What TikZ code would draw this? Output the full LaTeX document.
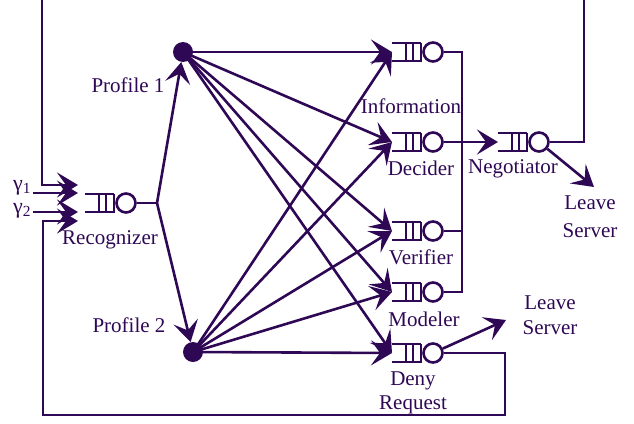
\documentclass[tikz,border=0pt]{standalone}
\usepackage{fontspec}
\setmainfont{Liberation Serif}
\usetikzlibrary{arrows.meta}
\definecolor{ink}{RGB}{46,8,84}
\newcommand\qsym[3]{%
  \coordinate (#1-in) at (#2,#3);
  \draw[ln] (#2+29,#3-9) -- (#2,#3-9) (#2,#3+9) -- (#2+29,#3+9) -- (#2+29,#3-9);
  \draw[ln] (#2+14,#3-9) -- (#2+14,#3+9) (#2+21,#3-9) -- (#2+21,#3+9);
  \node[qc] (#1) at (#2+41,#3) {};
}
\begin{document}
\begin{tikzpicture}[x=1pt,y=-1pt,
  ln/.style={draw=ink,line width=2.6pt},
  arr/.style={ln,-{Stealth[length=21pt,width=25pt,inset=9pt]}},
  qc/.style={circle,draw=ink,line width=2.6pt,minimum size=19pt,inner sep=0pt,fill=white},
  dotnode/.style={circle,fill=ink,minimum size=20pt,inner sep=0pt},
  lbl/.style={text=ink,font=\fontsize{21}{26}\selectfont,align=center,inner sep=0pt}]
\useasboundingbox (0,0) rectangle (634,423);
\clip (0,0) rectangle (634,423);

% queues
\qsym{rec}{85}{203}
\qsym{info}{392}{52}
\qsym{dec}{392}{142}
\qsym{ver}{392}{231}
\qsym{mod}{392}{292}
\qsym{deny}{392}{353}
\qsym{neg}{498}{142}

% profile dots
\node[dotnode] (p1) at (183,52) {};
\node[dotnode] (p2) at (193,352) {};

% coordinates
\coordinate (rj) at (157,203);
\coordinate (bt) at (462,52);
\coordinate (bv) at (462,231);
\coordinate (bb) at (462,292);
\coordinate (nr) at (584,142);
\coordinate (nt) at (584,-10);
\coordinate (lt) at (42,-10);
\coordinate (lb) at (42,185);
\coordinate (fb1) at (78,185);
\coordinate (dr) at (505,353);
\coordinate (dbr) at (505,415);
\coordinate (dbl) at (43,415);
\coordinate (dlt) at (43,221);
\coordinate (fb2) at (78,221);
\coordinate (g1s) at (33,193);
\coordinate (g1t) at (78,193);
\coordinate (g2s) at (33,212);
\coordinate (g2t) at (78,212);
\coordinate (ls1) at (594,187);
\coordinate (ls2) at (506,320);

% recognizer to profiles
\draw[ln] (rec) -- (rj);
\draw[arr] (rj) -- (p1);
\draw[arr] (rj) -- (p2);

% profiles to servers
\foreach \t in {info,dec,ver,mod,deny}{
  \draw[arr] (p1.center) -- (\t-in);
  \draw[arr] (p2.center) -- (\t-in);
}

% output bus
\draw[ln] (info) -- (bt) -- (bb) -- (mod);
\draw[ln] (ver) -- (bv);
\draw[arr] (dec) -- (neg-in);

% negotiator
\draw[arr] (neg) -- (ls1);
\draw[arr] (neg) -- (nr) -- (nt) -- (lt) -- (lb) -- (fb1);

% deny
\draw[arr] (deny) -- (ls2);
\draw[arr] (deny) -- (dr) -- (dbr) -- (dbl) -- (dlt) -- (fb2);

% inputs
\draw[arr] (g1s) -- (g1t);
\draw[arr] (g2s) -- (g2t);

% labels
\node[lbl,font=\fontsize{22}{26}\selectfont] (lg1) at (22,188) {γ\textsubscript{1}};
\node[lbl,font=\fontsize{22}{26}\selectfont] (lg2) at (22,211) {γ\textsubscript{2}};
\node[lbl] (lp1) at (128,85) {Profile 1};
\node[lbl] (lp2) at (129,325) {Profile 2};
\node[lbl] (lrec) at (110,240) {Recognizer};
\node[lbl] (linfo) at (411,106) {Information};
\node[lbl] (ldec) at (421,168) {Decider};
\node[lbl] (lneg) at (513,169) {Negotiator};
\node[lbl,font=\fontsize{21}{28}\selectfont] (lls1) at (590,217) {Leave\\Server};
\node[lbl] (lver) at (421,257) {Verifier};
\node[lbl] (lmod) at (424,319) {Modeler};
\node[lbl,font=\fontsize{21}{24}\selectfont] (ldeny) at (413,393) {Deny\\Request};
\node[lbl,font=\fontsize{21}{25}\selectfont] (lls2) at (550,315) {Leave\\Server};
\end{tikzpicture}
\end{document}
